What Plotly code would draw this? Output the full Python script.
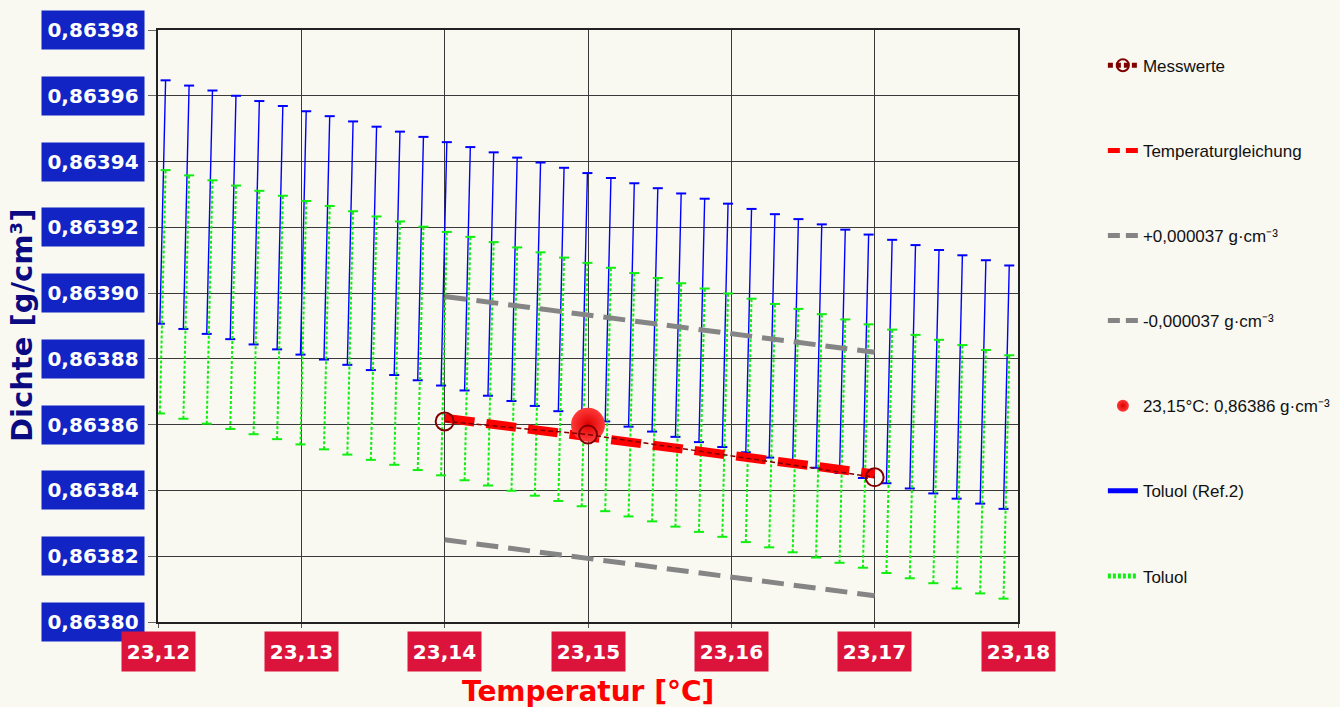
import plotly.graph_objects as go

# ---------------- data ----------------
temps = [23.12033, 23.12197, 23.12360, 23.12524, 23.12687, 23.12851, 23.13014, 23.13178,
         23.13341, 23.13505, 23.13668, 23.13832, 23.13995, 23.14159, 23.14322, 23.14486,
         23.14649, 23.14813, 23.14976, 23.15140, 23.15303, 23.15467, 23.15630, 23.15794,
         23.15957, 23.16121, 23.16284, 23.16448, 23.16611, 23.16775, 23.16938, 23.17102,
         23.17265, 23.17429, 23.17592, 23.17756, 23.17919]

toluol_ref2 = [0.8639277, 0.8639261, 0.8639246, 0.8639230, 0.8639214, 0.8639199, 0.8639183,
               0.8639168, 0.8639152, 0.8639136, 0.8639121, 0.8639105, 0.8639089, 0.8639074,
               0.8639058, 0.8639042, 0.8639027, 0.8639011, 0.8638995, 0.8638980, 0.8638964,
               0.8638949, 0.8638933, 0.8638917, 0.8638902, 0.8638886, 0.8638870, 0.8638855,
               0.8638839, 0.8638823, 0.8638808, 0.8638792, 0.8638776, 0.8638761, 0.8638745,
               0.8638730, 0.8638714]

toluol = [0.8639004, 0.8638988, 0.8638973, 0.8638957, 0.8638941, 0.8638926, 0.8638910,
          0.8638895, 0.8638879, 0.8638863, 0.8638848, 0.8638832, 0.8638816, 0.8638801,
          0.8638785, 0.8638769, 0.8638754, 0.8638738, 0.8638722, 0.8638707, 0.8638691,
          0.8638676, 0.8638660, 0.8638644, 0.8638629, 0.8638613, 0.8638597, 0.8638582,
          0.8638566, 0.8638550, 0.8638535, 0.8638519, 0.8638503, 0.8638488, 0.8638472,
          0.8638457, 0.8638441]

uncertainty = 0.000037

mess_T = [23.14, 23.15, 23.17]
mess_rho = [0.863861, 0.863857, 0.863844]

eq_T = [23.14, 23.17]
eq_rho = [0.863862, 0.863845]

point_T = [23.15]
point_rho = [0.86386]

x_ticks = [23.12, 23.13, 23.14, 23.15, 23.16, 23.17, 23.18]
x_tick_labels = ["23,12", "23,13", "23,14", "23,15", "23,16", "23,17", "23,18"]
y_ticks = [0.86380, 0.86382, 0.86384, 0.86386, 0.86388, 0.86390, 0.86392, 0.86394, 0.86396, 0.86398]
y_tick_labels = ["0,86380", "0,86382", "0,86384", "0,86386", "0,86388", "0,86390",
                 "0,86392", "0,86394", "0,86396", "0,86398"]

# ---------------- style ----------------
BG = "#f9f8f1"
SLANT = 0.0002   # visual slant of the bars (temperature units)
CAP = 0.00035    # half width of the caps


def bar_segments(xs, ys, u):
    sx, sy, cx, cy = [], [], [], []
    for x, y in zip(xs, ys):
        sx += [x - SLANT, x + SLANT, None]
        sy += [y - u, y + u, None]
        cx += [x - SLANT - CAP, x - SLANT + CAP, None, x + SLANT - CAP, x + SLANT + CAP, None]
        cy += [y - u, y - u, None, y + u, y + u, None]
    return sx, sy, cx, cy


fig = go.Figure()

# Toluol (Ref.2) blue bars
sx, sy, cx, cy = bar_segments(temps, toluol_ref2, uncertainty)
fig.add_trace(go.Scatter(x=sx, y=sy, mode="lines", name="Toluol (Ref.2)",
                         line=dict(color="#0000ff", width=1.4), legendgroup="g6", legendrank=6,
                         hoverinfo="skip"))
fig.add_trace(go.Scatter(x=cx, y=cy, mode="lines", showlegend=False,
                         line=dict(color="#0000ff", width=2), hoverinfo="skip"))

# Toluol green bars
sx, sy, cx, cy = bar_segments(temps, toluol, uncertainty)
fig.add_trace(go.Scatter(x=sx, y=sy, mode="lines", name="Toluol",
                         line=dict(color="#11ee11", width=2, dash="3px,2px"), legendgroup="g7",
                         legendrank=7, hoverinfo="skip"))
fig.add_trace(go.Scatter(x=cx, y=cy, mode="lines", showlegend=False,
                         line=dict(color="#11ee11", width=2), hoverinfo="skip"))

# +/- band lines (legend entries drawn by separate legend-only traces)
fig.add_trace(go.Scatter(x=eq_T, y=[r + uncertainty for r in eq_rho], mode="lines",
                         showlegend=False, line=dict(color="#858585", width=5, dash="22px,10px")))
fig.add_trace(go.Scatter(x=eq_T, y=[r - uncertainty for r in eq_rho], mode="lines",
                         showlegend=False, line=dict(color="#858585", width=5, dash="22px,10px")))
fig.add_trace(go.Scatter(x=[None], y=[None], mode="lines", name="+0,000037 g·cm⁻³",
                         legendgroup="g3", legendrank=3,
                         line=dict(color="#858585", width=5, dash="12px,6px")))
fig.add_trace(go.Scatter(x=[None], y=[None], mode="lines", name="-0,000037 g·cm⁻³",
                         legendgroup="g4", legendrank=4,
                         line=dict(color="#858585", width=5, dash="12px,6px")))

# temperature equation
fig.add_trace(go.Scatter(x=eq_T, y=eq_rho, mode="lines", showlegend=False,
                         line=dict(color="#ff0000", width=9, dash="30px,12px")))
fig.add_trace(go.Scatter(x=[None], y=[None], mode="lines", name="Temperaturgleichung",
                         legendgroup="g2", legendrank=2,
                         line=dict(color="#ff0000", width=6, dash="12px,6px")))

# Ball
fig.add_trace(go.Scatter(x=point_T, y=point_rho, mode="markers",
                         name="23,15°C: 0,86386 g·cm⁻³", legendgroup="g5", legendrank=5,
                         marker=dict(size=34, color="#ff3a3a",
                                     gradient=dict(type="radial", color="#dd0000"),
                                     line=dict(width=0))))

# Messwerte
fig.add_trace(go.Scatter(x=mess_T, y=mess_rho, mode="lines+markers", name="Messwerte",
                         legendgroup="g1", legendrank=1,
                         line=dict(color="#800000", width=1.5, dash="5px,3px"),
                         marker=dict(symbol="circle-open", size=18, color="#800000",
                                     line=dict(width=2, color="#800000"))))

annotations = []
for v, t in zip(y_ticks, y_tick_labels):
    annotations.append(dict(x=0, xref="paper", y=v, yref="y", text=t, showarrow=False,
                            xanchor="right", yanchor="middle", xshift=-13,
                            width=102, height=38, borderpad=0, bgcolor="#1224c4",
                            font=dict(family="DejaVu Sans", size=20, color="white", weight="bold")))
for v, t in zip(x_ticks, x_tick_labels):
    annotations.append(dict(x=v, xref="x", y=0, yref="paper", text=t, showarrow=False,
                            xanchor="center", yanchor="top", yshift=-9,
                            width=73, height=39, borderpad=0, bgcolor="#dc143c",
                            font=dict(family="DejaVu Sans", size=20, color="white", weight="bold")))

annotations.append(dict(x=0, xref="paper", y=0.5, yref="paper", text="Dichte [g/cm³]",
                        showarrow=False, textangle=-90, xanchor="center", yanchor="middle",
                        xshift=-136,
                        font=dict(family="DejaVu Sans", size=29, color="#0a0a82", weight="bold")))
annotations.append(dict(x=0.5, xref="paper", y=0, yref="paper", text="Temperatur [°C]",
                        showarrow=False, xanchor="center", yanchor="middle", yshift=-69,
                        font=dict(family="DejaVu Sans", size=28, color="#ff0000", weight="bold")))

fig.update_layout(
    width=1340, height=707,
    margin=dict(l=158, r=322, t=30, b=85, autoexpand=False),
    paper_bgcolor=BG, plot_bgcolor=BG,
    showlegend=True,
    legend=dict(x=1.0987, y=0.97, xanchor="left", yanchor="top", bgcolor="rgba(0,0,0,0)",
                font=dict(family="Liberation Sans", size=17, color="#111111"),
                tracegroupgap=60, itemsizing="constant", traceorder="grouped"),
    annotations=annotations,
    xaxis=dict(range=[23.12, 23.18], tickvals=x_ticks, showticklabels=False,
               showgrid=True, gridcolor="#3a3a3a", gridwidth=1.3, zeroline=False,
               showline=True, linecolor="#222222", linewidth=2, mirror=True,
               ticks="outside", ticklen=4, tickcolor="#555555"),
    yaxis=dict(range=[0.86380, 0.86398], tickvals=y_ticks, showticklabels=False,
               showgrid=True, gridcolor="#3a3a3a", gridwidth=1.3, zeroline=False,
               showline=True, linecolor="#222222", linewidth=2, mirror=True,
               ticks="outside", ticklen=8, tickcolor="#666666"),
)

fig.write_html("out.html", config={"displayModeBar": False},
               post_script="document.body.style.margin='0px';document.body.style.padding='0px';"
                           "document.body.style.background='" + BG + "';")
